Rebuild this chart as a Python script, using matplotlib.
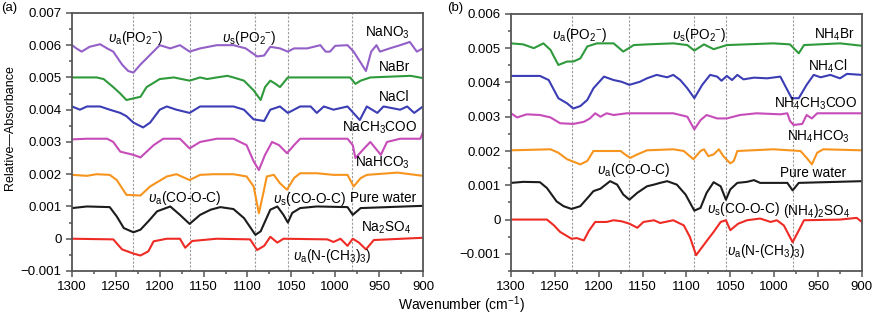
import matplotlib
matplotlib.use("Agg")
import matplotlib.pyplot as plt
from matplotlib.ticker import MultipleLocator, FuncFormatter

plt.rcParams['font.family'] = ['Liberation Sans', 'DejaVu Sans']
plt.rcParams['font.size'] = 9.5
plt.rcParams['mathtext.fontset'] = 'custom'
plt.rcParams['mathtext.rm'] = 'Liberation Sans'
plt.rcParams['mathtext.it'] = 'Liberation Sans:italic'

# ---- panel (a): sodium salts ----
nano3_w = [1300, 1295, 1289, 1280, 1268, 1260, 1253, 1243, 1236, 1230, 1222, 1211, 1200, 1188, 1177, 1166,
           1154, 1135, 1116, 1102, 1089, 1081, 1074, 1063, 1054, 1047, 1032, 1017, 1011, 1006, 1000, 986,
           979, 972, 965, 959, 953, 949, 938, 926, 915, 907, 900]
nano3_v = [0.0060, 0.00590, 0.0058, 0.00595, 0.00603, 0.0059, 0.0058, 0.0054, 0.0052, 0.00515, 0.0054, 0.0057,
           0.0060, 0.0059, 0.0060, 0.0058, 0.0059, 0.0060, 0.0060, 0.0059, 0.00565, 0.00568, 0.00595, 0.0059,
           0.0058, 0.0059, 0.0059, 0.0060, 0.0058, 0.0058, 0.00598, 0.0060, 0.0058, 0.0055, 0.0052, 0.0058,
           0.0060, 0.0058, 0.0059, 0.0060, 0.0061, 0.0058, 0.0059]

nabr_w = [1300, 1272, 1264, 1253, 1245, 1238, 1230, 1222, 1215, 1200, 1184, 1166, 1154, 1146, 1135, 1123,
          1116, 1104, 1093, 1085, 1080, 1074, 1068, 1063, 1054, 983, 977, 971, 960, 914, 900]
nabr_v = [0.0050, 0.0050, 0.00495, 0.0047, 0.0045, 0.0043, 0.00435, 0.0044, 0.0047, 0.00495, 0.0050, 0.0049,
          0.0050, 0.00495, 0.0050, 0.00505, 0.0050, 0.0049, 0.0046, 0.0043, 0.0047, 0.0049, 0.0048, 0.0047,
          0.0050, 0.0050, 0.0048, 0.0049, 0.0050, 0.00505, 0.00498]

nacl_w = [1300, 1291, 1283, 1268, 1257, 1245, 1238, 1230, 1219, 1211, 1200, 1192, 1181, 1166, 1154, 1116,
          1104, 1093, 1081, 1074, 1063, 1054, 1040, 1028, 1021, 1013, 1002, 986, 972, 964, 952, 945, 926,
          918, 910, 900]
nacl_v = [0.0041, 0.0040, 0.0041, 0.0041, 0.0040, 0.0039, 0.0038, 0.0036, 0.00345, 0.0036, 0.0040, 0.0041,
          0.0040, 0.0039, 0.0041, 0.0041, 0.0040, 0.0037, 0.00365, 0.0040, 0.0041, 0.0039, 0.0041, 0.0041,
          0.0039, 0.0041, 0.0040, 0.0041, 0.00368, 0.0041, 0.0039, 0.0041, 0.0040, 0.0041, 0.0039, 0.0041]

naac_w = [1300, 1283, 1260, 1253, 1245, 1230, 1222, 1207, 1196, 1177, 1166, 1154, 1135, 1116, 1101, 1093,
          1087, 1080, 1072, 1064, 1055, 1047, 1040, 986, 980, 977, 967, 960, 948, 941, 926, 903, 900]
naac_v = [0.00308, 0.0031, 0.0031, 0.0030, 0.0027, 0.0026, 0.00252, 0.0029, 0.0031, 0.0031, 0.0028, 0.0030,
          0.0031, 0.0031, 0.0029, 0.0024, 0.00213, 0.0026, 0.0030, 0.0029, 0.00265, 0.0029, 0.0031, 0.0031,
          0.0029, 0.0025, 0.0028, 0.0030, 0.0026, 0.0030, 0.0031, 0.0031, 0.0033]

nahco3_w = [1300, 1283, 1272, 1257, 1249, 1238, 1222, 1211, 1192, 1181, 1166, 1154, 1139, 1116, 1101, 1093,
            1087, 1082, 1078, 1070, 1063, 1055, 1047, 1040, 1021, 1002, 986, 979, 971, 964, 929, 900]
nahco3_v = [0.00198, 0.00195, 0.0020, 0.00198, 0.00182, 0.00136, 0.00134, 0.00162, 0.00193, 0.0020, 0.00182,
            0.00198, 0.0020, 0.0020, 0.00193, 0.00162, 0.00079, 0.00141, 0.00193, 0.00198, 0.00172, 0.00152,
            0.00188, 0.00203, 0.00203, 0.00198, 0.00198, 0.00162, 0.00188, 0.00198, 0.00205, 0.00195]

water_a_w = [1300, 1283, 1257, 1249, 1241, 1230, 1222, 1213, 1203, 1188, 1177, 1166, 1154, 1142, 1131, 1116,
             1104, 1091, 1085, 1074, 1066, 1059, 1054, 1049, 1040, 1021, 986, 980, 971, 900]
water_a_v = [0.00095, 0.0010, 0.00098, 0.00069, 0.00033, 0.0002, 0.00028, 0.00054, 0.00085, 0.0010, 0.00074,
             0.00046, 0.00074, 0.0009, 0.00098, 0.00092, 0.00064, 0.00012, 0.00023, 0.0009, 0.0010, 0.00074,
             0.0005, 0.0008, 0.00095, 0.0010, 0.00098, 0.00074, 0.00095, 0.00102]

na2so4_w = [1300, 1253, 1243, 1230, 1222, 1213, 1207, 1192, 1177, 1171, 1163, 1135, 1097, 1089, 1081, 1074,
            1066, 1059, 1009, 1002, 994, 986, 980, 973, 965, 956, 900]
na2so4_v = [0.0, -0.00002, -0.00033, -0.00046, -0.00052, -0.00039, -0.00008, 0.0, 0.0, -0.00028, -0.00007,
            0.0, -0.00002, -0.00035, -0.00022, 0.00006, -0.00012, 0.0, -0.00002, -0.0001, 0.0, -0.00022, 0.0,
            -0.00012, -0.00033, -0.00004, 0.00003]

# ---- panel (b): ammonium salts ----
nh4br_w = [1300, 1286, 1274, 1263, 1255, 1246, 1236, 1229, 1221, 1213, 1202, 1183, 1172, 1160, 1145, 1115,
           1099, 1091, 1080, 1069, 1054, 1001, 982, 972, 966, 925, 900]
nh4br_v = [0.00514, 0.00511, 0.0050, 0.00514, 0.00495, 0.00451, 0.00461, 0.00461, 0.0047, 0.00505, 0.00514,
           0.00514, 0.0049, 0.00509, 0.00511, 0.00514, 0.00509, 0.00493, 0.00511, 0.00497, 0.00509, 0.00514,
           0.00511, 0.00485, 0.00509, 0.00514, 0.00507]

nh4cl_w = [1300, 1267, 1257, 1246, 1236, 1229, 1221, 1213, 1206, 1194, 1183, 1174, 1165, 1153, 1145, 1134,
           1122, 1115, 1107, 1099, 1091, 1082, 1073, 1065, 1060, 1054, 1048, 1042, 1035, 1023, 1008, 993,
           985, 980, 972, 963, 955, 947, 936, 925, 917, 900]
nh4cl_v = [0.00419, 0.00419, 0.00407, 0.00354, 0.00339, 0.00324, 0.00331, 0.00349, 0.00383, 0.00417, 0.00407,
           0.00402, 0.00393, 0.00402, 0.00412, 0.00422, 0.00415, 0.00422, 0.00407, 0.00383, 0.00354, 0.00393,
           0.00422, 0.00417, 0.00405, 0.00419, 0.00407, 0.00422, 0.00409, 0.00414, 0.00412, 0.00417, 0.00378,
           0.00354, 0.00354, 0.00393, 0.00422, 0.00415, 0.00422, 0.00412, 0.00425, 0.00422]

nh4ac_w = [1300, 1293, 1282, 1267, 1255, 1244, 1229, 1217, 1210, 1204, 1198, 1191, 1183, 1168, 1115, 1099,
           1091, 1084, 1077, 1065, 1054, 1039, 1020, 993, 985, 982, 978, 968, 963, 957, 951, 900]
nh4ac_v = [0.0031, 0.00298, 0.00307, 0.00305, 0.00298, 0.00281, 0.00279, 0.00285, 0.00295, 0.0031, 0.0030,
           0.0031, 0.00305, 0.0031, 0.0031, 0.0030, 0.00263, 0.0029, 0.00305, 0.00295, 0.00295, 0.00305,
           0.0031, 0.00307, 0.0031, 0.00288, 0.00276, 0.00279, 0.00305, 0.00295, 0.0031, 0.0031]

nh4hco3_w = [1300, 1255, 1246, 1236, 1221, 1213, 1206, 1175, 1170, 1164, 1156, 1145, 1115, 1103, 1092, 1084,
             1080, 1075, 1069, 1063, 1058, 1050, 1046, 1042, 1001, 970, 963, 957, 951, 944, 900]
nh4hco3_v = [0.00202, 0.00205, 0.00195, 0.00176, 0.00161, 0.00171, 0.0020, 0.0020, 0.0019, 0.0018, 0.0019,
             0.00202, 0.00205, 0.0020, 0.00176, 0.0020, 0.00205, 0.00185, 0.0019, 0.00205, 0.00185, 0.00164,
             0.00171, 0.0020, 0.00205, 0.0020, 0.0018, 0.00161, 0.00195, 0.00205, 0.00202]

water_b_w = [1300, 1286, 1267, 1259, 1248, 1240, 1231, 1221, 1211, 1206, 1198, 1187, 1179, 1172, 1165, 1156,
             1145, 1137, 1130, 1122, 1111, 1101, 1091, 1084, 1077, 1069, 1061, 1055, 1050, 1042, 1031, 1023,
             1016, 985, 979, 972, 900]
water_b_v = [0.00107, 0.0011, 0.00109, 0.00092, 0.00053, 0.00039, 0.00031, 0.00039, 0.00068, 0.00083, 0.0009,
             0.00112, 0.00102, 0.00073, 0.00058, 0.00078, 0.00097, 0.00102, 0.00107, 0.00112, 0.00102, 0.00073,
             0.00026, 0.00034, 0.00078, 0.00109, 0.00097, 0.00058, 0.00088, 0.00107, 0.0011, 0.00115, 0.00107,
             0.00107, 0.00085, 0.00107, 0.00112]

nh4so4_w = [1300, 1259, 1251, 1244, 1231, 1225, 1217, 1211, 1204, 1191, 1183, 1174, 1165, 1156, 1149, 1137,
            1130, 1115, 1103, 1096, 1089, 1082, 1075, 1069, 1061, 1055, 1050, 1041, 1031, 1016, 1004, 997,
            989, 979, 972, 966, 925, 906, 900]
nh4so4_v = [0.0, 0.0, -0.00017, -0.00036, -0.00056, -0.00054, -0.00061, -0.00032, -0.00007, -0.00007, -0.00002,
            -0.00005, -0.00012, -0.00024, -0.00007, -0.00002, -0.0001, -0.00002, -0.00017, -0.00051, -0.00104,
            -0.0008, -0.00056, -0.00036, -0.00007, -0.00002, -0.00031, -0.00012, -0.00002, 0.00003, -0.00007,
            -0.00002, -0.00017, -0.00066, -0.00032, -0.00002, 0.0, 0.00005, -0.00007]

band_lines_a = [1230, 1166, 1091, 1054, 981]
band_lines_b = [1231, 1165, 1091, 1055, 979]

purple = '#9360c8'
green = '#2f9a3c'
blue = '#3b3db4'
magenta = '#c64cb9'
orange = '#f7941e'
black = '#1c1c1c'
red = '#ee2b25'

ua = r'$\mathit{υ}_{\mathrm{a}}$'
us = r'$\mathit{υ}_{\mathrm{s}}$'

fig = plt.figure(figsize=(8.73, 3.19), dpi=100)
ax1 = fig.add_axes([0.0825, 0.1505, 0.402, 0.809])
ax2 = fig.add_axes([0.5853, 0.1505, 0.402, 0.806])

series_a = [(nano3_w, nano3_v, purple), (nabr_w, nabr_v, green), (nacl_w, nacl_v, blue),
            (naac_w, naac_v, magenta), (nahco3_w, nahco3_v, orange), (water_a_w, water_a_v, black),
            (na2so4_w, na2so4_v, red)]
series_b = [(nh4br_w, nh4br_v, green), (nh4cl_w, nh4cl_v, blue), (nh4ac_w, nh4ac_v, magenta),
            (nh4hco3_w, nh4hco3_v, orange), (water_b_w, water_b_v, black), (nh4so4_w, nh4so4_v, red)]


def tick_fmt(v, pos):
    if abs(v) < 1e-9:
        return '0'
    return ('%.3f' % v).replace('-', '\u2212')


for ax, series, lines, ylo, yhi in [(ax1, series_a, band_lines_a, -0.001, 0.007),
                                    (ax2, series_b, band_lines_b, -0.0015, 0.006)]:
    for x in lines:
        ax.axvline(x, color='#9a9a9a', lw=0.8, ls=(0, (2, 1.5)), zorder=1)
    for w, v, c in series:
        ax.plot(w, v, color=c, lw=1.5, solid_joinstyle='round', zorder=2)
    ax.set_xlim(1300, 900)
    ax.set_ylim(ylo, yhi)
    ax.xaxis.set_major_locator(MultipleLocator(50))
    ax.xaxis.set_minor_locator(MultipleLocator(25))
    ax.yaxis.set_major_locator(MultipleLocator(0.001))
    ax.yaxis.set_minor_locator(MultipleLocator(0.0005))
    ax.yaxis.set_major_formatter(FuncFormatter(tick_fmt))
    ax.tick_params(which='major', direction='out', length=4, width=1.1, color='#555555', labelsize=9.5)
    ax.tick_params(which='minor', direction='out', length=2.5, width=1.1, color='#555555')
    for s in ax.spines.values():
        s.set_color('#555555')
        s.set_linewidth(1.3)

fs = 9.8
# labels panel (a)
ax1.text(1259, 0.00622, ua + '(PO$_2$$^{-}$)', ha='left', va='center', fontsize=fs)
ax1.text(1129, 0.00622, us + '(PO$_2$$^{-}$)', ha='left', va='center', fontsize=fs)
ax1.text(915, 0.00638, 'NaNO$_3$', ha='right', va='center', fontsize=fs)
ax1.text(915, 0.00533, 'NaBr', ha='right', va='center', fontsize=fs)
ax1.text(915, 0.0044, 'NaCl', ha='right', va='center', fontsize=fs)
ax1.text(906, 0.00343, 'NaCH$_3$COO', ha='right', va='center', fontsize=fs)
ax1.text(915, 0.00235, 'NaHCO$_3$', ha='right', va='center', fontsize=fs)
ax1.text(908, 0.00127, 'Pure water', ha='right', va='center', fontsize=fs)
ax1.text(914, 0.00033, 'Na$_2$SO$_4$', ha='right', va='center', fontsize=fs)
ax1.text(1213, 0.00127, ua + '(CO-O-C)', ha='left', va='center', fontsize=fs)
ax1.text(1071, 0.00123, us + '(CO-O-C)', ha='left', va='center', fontsize=fs)
ax1.text(1048, -0.00053, ua + '(N-(CH$_3$)$_3$)', ha='left', va='center', fontsize=fs)

# labels panel (b)
ax2.text(1253, 0.00539, ua + '(PO$_2$$^{-}$)', ha='left', va='center', fontsize=fs)
ax2.text(1117, 0.00539, us + '(PO$_2$$^{-}$)', ha='left', va='center', fontsize=fs)
ax2.text(908, 0.00539, 'NH$_4$Br', ha='right', va='center', fontsize=fs)
ax2.text(916, 0.00446, 'NH$_4$Cl', ha='right', va='center', fontsize=fs)
ax2.text(905, 0.00338, 'NH$_4$CH$_3$COO', ha='right', va='center', fontsize=fs)
ax2.text(914, 0.00242, 'NH$_4$HCO$_3$', ha='right', va='center', fontsize=fs)
ax2.text(1202, 0.00146, ua + '(CO-O-C)', ha='left', va='center', fontsize=fs)
ax2.text(918, 0.00135, 'Pure water', ha='right', va='center', fontsize=fs)
ax2.text(1077, 0.0003, us + '(CO-O-C)', ha='left', va='center', fontsize=fs)
ax2.text(990, 0.00026, '(NH$_4$)$_2$SO$_4$', ha='left', va='center', fontsize=fs)
ax2.text(1054, -0.00093, ua + '(N-(CH$_3$)$_3$)', ha='left', va='center', fontsize=fs)

fig.text(0.001, 0.995, '(a)', ha='left', va='top', fontsize=9.5)
fig.text(0.512, 0.995, '(b)', ha='left', va='top', fontsize=9.5)
fig.text(0.528, 0.044, 'Wavenumber (cm$^{-1}$)', ha='center', va='center', fontsize=10)
fig.text(0.012, 0.6, 'Relative\u2014Absorbance', ha='center', va='center', rotation=90, fontsize=9)

fig.savefig('out.png', dpi=100)
